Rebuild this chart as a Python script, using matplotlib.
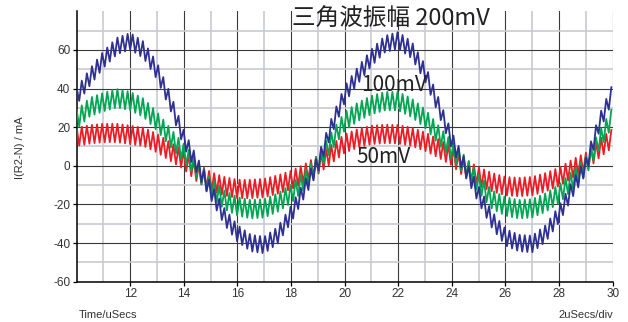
import numpy as np
import matplotlib
matplotlib.use("Agg")
import matplotlib.pyplot as plt
from matplotlib.ticker import FixedLocator

plt.rcParams["axes.unicode_minus"] = False

# centre of each trace, read every 0.5 us from the picture (mA)
t_read = np.arange(10, 30.25, 0.5)
blue_mid = [36, 46, 55, 62, 64.5, 60, 49, 33, 14, 0, -13, -26, -35, -40, -41, -36,
            -25, -12, 1, 20, 37, 47, 56, 63, 65, 60, 48, 31, 13, -1, -15, -28, -37,
            -40, -40.5, -35, -25, -12, 0, 22, 38]
green_mid = [24, 30.5, 33, 35, 33.5, 30, 23, 14.5, 6.5, -2, -11, -17.5, -21, -22.5,
             -22, -19, -14.5, -7.5, 1, 12.5, 23, 28, 31.5, 33.5, 33.5, 30, 24.5, 16,
             8, 0, -9, -17.5, -21, -22.5, -22, -19, -14.5, -7.5, 0, 13, 25.5]
red_mid = [15, 16.3, 17, 17, 16, 15, 11.7, 7.3, 3, -3.5, -8, -10.5, -12, -12, -11.5,
           -9.7, -7.4, -4, 0.5, 6, 11.5, 14.3, 16, 16.5, 16.3, 15, 12.5, 9, 5, -1.5,
           -5.5, -8.5, -10.5, -11, -10.5, -8.5, -5.7, -1.5, 2, 9, 14.3]

# triangle ripple
ripple_period = 0.19   # us
ripple_half = {"blue": 4.3, "green": 4.8, "red": 4.8}

colors = {"blue": "#2e3192", "green": "#00a651", "red": "#ed1c24"}
series = {"blue": blue_mid, "green": green_mid, "red": red_mid}

xticks = [12, 14, 16, 18, 20, 22, 24, 26, 28, 30]
yticks = [-60, -40, -20, 0, 20, 40, 60]

fig = plt.figure(figsize=(6.28, 3.22), dpi=100)
ax = fig.add_axes([0.1221, 0.1252, 0.8535, 0.8397])

# vertices of the zigzag: alternate above/below the read centre line
t_zig = np.arange(10, 30.0001, ripple_period / 2)
sign = np.where(np.arange(len(t_zig)) % 2 == 0, 1.0, -1.0)
for name in ["red", "green", "blue"]:
    mid = np.interp(t_zig, t_read, series[name])
    ax.plot(t_zig, mid + sign * ripple_half[name], color=colors[name], lw=1.3,
            zorder=3)

ax.set_xlim(10, 30)
ax.set_ylim(-60, 80)
ax.xaxis.set_major_locator(FixedLocator(xticks))
ax.xaxis.set_minor_locator(FixedLocator(np.arange(11, 30, 2)))
ax.yaxis.set_major_locator(FixedLocator(yticks))
ax.yaxis.set_minor_locator(FixedLocator(np.arange(-50, 80, 20)))

ax.grid(which="minor", color="#c9cbd3", lw=1.2)
ax.grid(which="major", color="#3a3a3a", lw=0.8)
ax.set_axisbelow(True)

for s in ["top", "right"]:
    ax.spines[s].set_visible(False)
for s in ["left", "bottom"]:
    ax.spines[s].set_color("black")
    ax.spines[s].set_linewidth(1.1)

ax.tick_params(which="major", direction="out", length=3, width=0.9, color="black",
               labelsize=8.5, labelcolor="#333333", pad=1.5)
ax.tick_params(which="minor", length=0)
for lab in ax.get_xticklabels() + ax.get_yticklabels():
    lab.set_family("Liberation Sans")

small = dict(family="Liberation Sans", fontsize=8, color="#333333")
fig.text(20 / 628, 1 - 148 / 322, "I(R2-N) / mA", rotation=90, ha="center",
         va="center", **small)
fig.text(79 / 628, 1 - 315 / 322, "Time/uSecs", ha="left", va="center", **small)
fig.text(613 / 628, 1 - 315 / 322, "2uSecs/div", ha="right", va="center", **small)

big = dict(family=["Noto Sans CJK JP", "DejaVu Sans"], color="#222222")
fig.text(292 / 628, 1 - 18 / 322, "三角波振幅 200mV", ha="left", va="center",
         fontsize=17, **big)
fig.text(361 / 628, 1 - 85 / 322, "100mV", ha="left", va="center", fontsize=15, **big)
fig.text(356 / 628, 1 - 157 / 322, "50mV", ha="left", va="center", fontsize=15, **big)

fig.savefig("out.png", dpi=100)
